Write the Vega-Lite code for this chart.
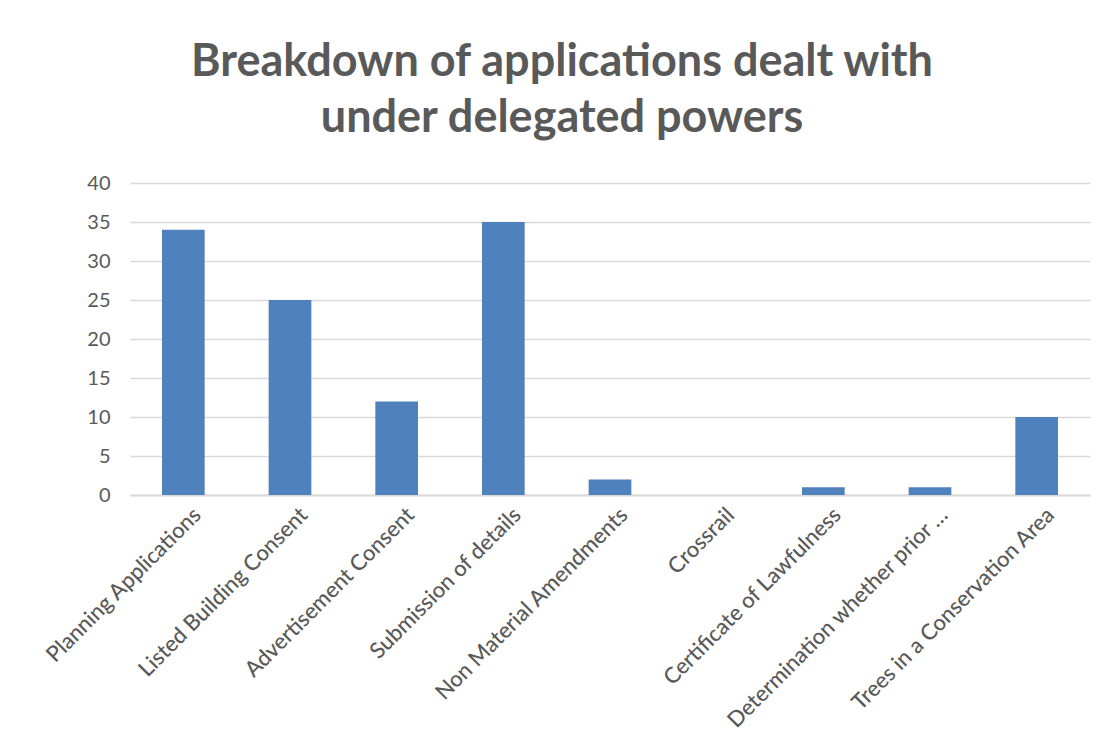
{
  "$schema": "https://vega.github.io/schema/vega-lite/v6.json",
  "width": 960,
  "height": 312,
  "autosize": "none",
  "padding": {"left": 130, "top": 183, "right": 20, "bottom": 250},
  "background": "white",
  "title": {
    "text": ["Breakdown of applications dealt with", "under delegated powers"],
    "font": "Lato",
    "fontSize": 45,
    "fontWeight": "bold",
    "color": "#595959",
    "lineHeight": 56,
    "anchor": "middle",
    "dx": -48,
    "offset": 32
  },
  "data": {
    "values": [
      {"category": "Planning Applications", "count": 34},
      {"category": "Listed Building Consent", "count": 25},
      {"category": "Advertisement Consent", "count": 12},
      {"category": "Submission of details", "count": 35},
      {"category": "Non Material Amendments", "count": 2},
      {"category": "Crossrail", "count": 0},
      {"category": "Certificate of Lawfulness", "count": 1},
      {"category": "Determination whether prior …", "count": 1},
      {"category": "Trees in a Conservation Area", "count": 10}
    ]
  },
  "mark": {"type": "bar", "color": "#4F81BD"},
  "encoding": {
    "x": {
      "field": "category",
      "type": "nominal",
      "sort": null,
      "title": null,
      "scale": {"paddingInner": 0.6, "paddingOuter": 0.3},
      "axis": {
        "labelAngle": -45,
        "labelAlign": "right",
        "labelBaseline": "middle",
        "labelFont": "Lato",
        "labelFontSize": 22,
        "labelFontWeight": 500,
        "labelColor": "#595959",
        "labelPadding": 16,
        "labelOffset": 14,
        "labelLimit": 400,
        "ticks": false,
        "domainColor": "#D9D9D9",
        "domainWidth": 2
      }
    },
    "y": {
      "field": "count",
      "type": "quantitative",
      "title": null,
      "scale": {"domain": [0, 40]},
      "axis": {
        "values": [0, 5, 10, 15, 20, 25, 30, 35, 40],
        "labelFont": "Lato",
        "labelFontSize": 20,
        "labelColor": "#595959",
        "labelPadding": 20,
        "ticks": false,
        "domain": false,
        "gridColor": "#D9D9D9",
        "gridWidth": 1.5
      }
    }
  },
  "config": {"view": {"stroke": null}}
}
